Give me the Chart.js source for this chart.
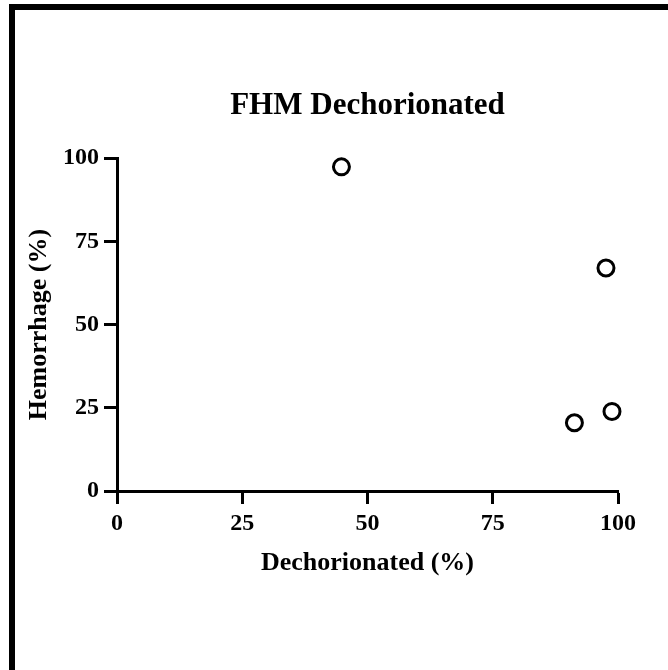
<!DOCTYPE html>
<html>
<head>
<meta charset="utf-8">
<script src="https://cdn.jsdelivr.net/npm/chart.js@4"></script>
<style>
  html, body { margin: 0; padding: 0; background: #fff; overflow: hidden; }
  #wrap { position: relative; width: 668px; height: 670px; }
  #frame {
    position: absolute; left: 9px; top: 4px; width: 700px; height: 700px;
    border-left: 6px solid #000; border-top: 6px solid #000; pointer-events: none;
  }
  canvas { position: absolute; left: 0; top: 0; }
</style>
</head>
<body>
<div id="wrap">
  <canvas id="c" width="668" height="670"></canvas>
  <div id="frame"></div>
</div>
<script>
// data
const dechorionated = [44.8, 97.6, 91.3, 98.8];
const hemorrhage = [97.4, 67.0, 20.5, 23.9];
const xTickValues = [0, 25, 50, 75, 100];
const yTickValues = [0, 25, 50, 75, 100];

const titleText = "FHM Dechorionated";
const xTitle = "Dechorionated (%)";
const yTitle = "Hemorrhage (%)";

const points = dechorionated.map((x, i) => ({ x: x, y: hemorrhage[i] }));
const serif = "'Liberation Serif', 'Times New Roman', serif";

function setTicks(values) {
  return function (scale) {
    scale.ticks = values.map(v => ({ value: v }));
  };
}

new Chart(document.getElementById("c"), {
  type: "scatter",
  data: {
    datasets: [{
      label: yTitle,
      data: points,
      pointStyle: "circle",
      pointRadius: 8,
      pointHoverRadius: 8,
      pointBorderWidth: 3,
      pointBorderColor: "#000",
      pointBackgroundColor: "rgba(255,255,255,0)",
      clip: false
    }]
  },
  options: {
    responsive: false,
    animation: false,
    events: [],
    layout: { padding: { left: 0, top: 0, right: 50, bottom: 0 } },
    plugins: {
      legend: { display: false },
      tooltip: { enabled: false },
      title: {
        display: true,
        fullSize: false,
        text: titleText,
        color: "#000",
        font: { family: serif, size: 31, weight: "bold", lineHeight: 1.2 },
        padding: { top: 87, bottom: 34 }
      }
    },
    scales: {
      x: {
        type: "linear",
        min: 0,
        max: 100,
        afterFit: s => { s.height = 179; },
        afterBuildTicks: setTicks(xTickValues),
        border: { display: true, color: "#000", width: 3 },
        grid: { drawOnChartArea: false, drawTicks: true, tickLength: 13, tickWidth: 3, tickColor: "#000", color: "#000" },
        ticks: {
          color: "#000",
          padding: 5,
          maxRotation: 0,
          font: { family: serif, size: 24, weight: "bold" }
        },
        title: {
          display: true,
          text: xTitle,
          color: "#000",
          font: { family: serif, size: 26, weight: "bold", lineHeight: 1.2 },
          padding: { top: 0, bottom: 91 }
        }
      },
      y: {
        type: "linear",
        min: 0,
        max: 100,
        afterFit: s => { s.width = 117; },
        afterBuildTicks: setTicks(yTickValues),
        border: { display: true, color: "#000", width: 3 },
        grid: { drawOnChartArea: false, drawTicks: true, tickLength: 13, tickWidth: 3, tickColor: "#000", color: "#000" },
        ticks: {
          color: "#000",
          padding: 5,
          font: { family: serif, size: 24, weight: "bold" }
        },
        title: {
          display: true,
          text: yTitle,
          color: "#000",
          font: { family: serif, size: 26, weight: "bold", lineHeight: 1.2 },
          padding: { top: 24, bottom: 0 }
        }
      }
    }
  }
});
</script>
</body>
</html>
